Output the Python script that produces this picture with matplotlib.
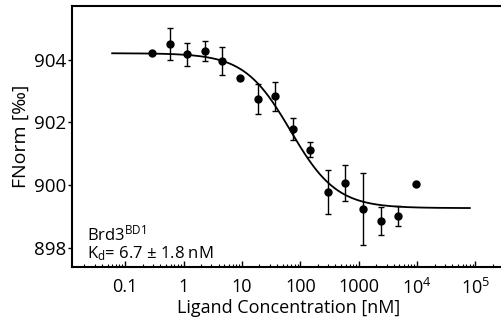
import numpy as np
import matplotlib
matplotlib.use("Agg")
import matplotlib.pyplot as plt

plt.rcParams["font.family"] = ["Open Sans", "DejaVu Sans"]
plt.rcParams["mathtext.default"] = "regular"

# Measured points (ligand concentration in nM, FNorm in per mille)
conc = [0.29, 0.58, 1.16, 2.32, 4.64, 9.28, 18.6, 37.1, 74.2, 148,
        297, 594, 1190, 2380, 4750, 9500]
fnorm = [904.21, 904.49, 904.16, 904.27, 903.95, 903.41, 902.75, 902.84,
         901.78, 901.13, 899.79, 900.08, 899.25, 898.87, 899.03, 900.05]
err = [0.0, 0.51, 0.37, 0.33, 0.44, 0.0, 0.48, 0.46,
       0.35, 0.24, 0.71, 0.56, 1.14, 0.44, 0.32, 0.0]

# Fit parameters
top, bottom, ec50, hill = 904.2, 899.28, 68.0, 1.1
fit_range = (0.06, 8e4)

fig = plt.figure(figsize=(5.01, 3.24), dpi=100)
ax = fig.add_axes([0.1437, 0.177, 0.8636, 0.8045])

xf = np.logspace(np.log10(fit_range[0]), np.log10(fit_range[1]), 400)
yf = bottom + (top - bottom) / (1 + (xf / ec50) ** hill)
ax.plot(xf, yf, color="black", lw=1.3)

ax.errorbar(conc, fnorm, yerr=err, fmt="o", color="black", ms=5,
            elinewidth=1.0, capsize=2, capthick=1.0)

ax.set_xscale("log")
ax.set_xlim(10 ** -1.91, 10 ** 5.5)
ax.set_ylim(897.42, 905.7)
ax.set_xticks([0.1, 1, 10, 100, 1000, 1e4, 1e5])
ax.set_xticklabels(["0.1", "1", "10", "100", "1000", "$10^4$", "$10^5$"])
ax.set_yticks([898, 900, 902, 904])

ax.tick_params(axis="x", which="major", direction="in", length=4, width=1,
               labelsize=13, pad=8)
ax.tick_params(axis="x", which="minor", direction="in", length=2.5, width=0.8)
ax.tick_params(axis="y", direction="out", length=3, width=1, labelsize=13.5, pad=1)

for side in ["left", "bottom", "top"]:
    ax.spines[side].set_linewidth(1.5)
ax.spines["right"].set_visible(False)

ax.set_xlabel("Ligand Concentration [nM]", fontsize=13, labelpad=1)
ax.set_ylabel("FNorm [‰]", fontsize=14, labelpad=3)

ax.text(0.035, 0.099, "Brd3$^{BD1}$", transform=ax.transAxes, fontsize=12)
ax.text(0.035, 0.033, "K$_d$= 6.7 ± 1.8 nM", transform=ax.transAxes, fontsize=12)

fig.savefig("out.png", dpi=100)
